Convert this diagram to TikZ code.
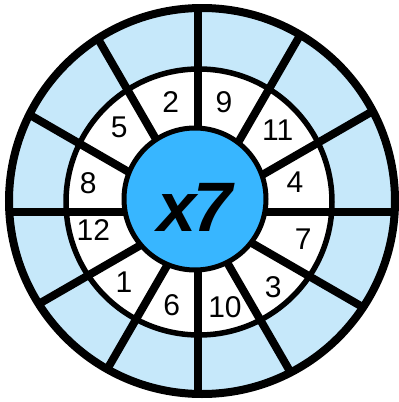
\documentclass[tikz,border=0pt]{standalone}
\usepackage{fontspec}
\setmainfont{Liberation Sans}
\definecolor{ringblue}{RGB}{198,232,250}
\definecolor{hubblue}{RGB}{56,182,255}
\begin{document}
\begin{tikzpicture}[x=1pt,y=-1pt,
  num/.style={inner sep=0pt, font=\fontsize{30}{30}\selectfont},
  spoke/.style={line width=8pt}]
\useasboundingbox (0,0) rectangle (399,402);
\fill[ringblue] (202,201) circle (193pt);
\fill[white] (199,202) circle (133pt);
\begin{scope}
  \clip (202,201) circle (193pt);
  \coordinate (hubc) at (198,212);
  \foreach \a in {0,30,...,150}
    \draw[spoke] ([shift={(\a:-260pt)}]hubc) -- ([shift={(\a:260pt)}]hubc);
\end{scope}
\draw[line width=5.5pt] (199,202) circle (133pt);
\filldraw[fill=hubblue, line width=5pt] (195,199) circle (71pt);
\draw[line width=8pt] (202,201) circle (193pt);
\node[inner sep=0pt, font=\fontsize{70}{70}\selectfont\bfseries\itshape] (hub) at (195,207) {x\kern-3pt 7};
\node[num] (n2) at (170.7,101.7) {2};
\node[num] (n9) at (224,101.7) {9};
\node[num] (n5) at (119.3,127.3) {5};
\node[num] (n11) at (277.7,130) {11};
\node[num] (n8) at (88.3,182.7) {8};
\node[num] (n4) at (295,181.7) {4};
\node[num] (n12) at (93.3,230) {12};
\node[num] (n7) at (303.3,239) {7};
\node[num] (n1) at (124,281.7) {1};
\node[num] (n3) at (273.3,286.7) {3};
\node[num] (n6) at (171.7,305) {6};
\node[num] (n10) at (225,307.3) {10};
\end{tikzpicture}
\end{document}
